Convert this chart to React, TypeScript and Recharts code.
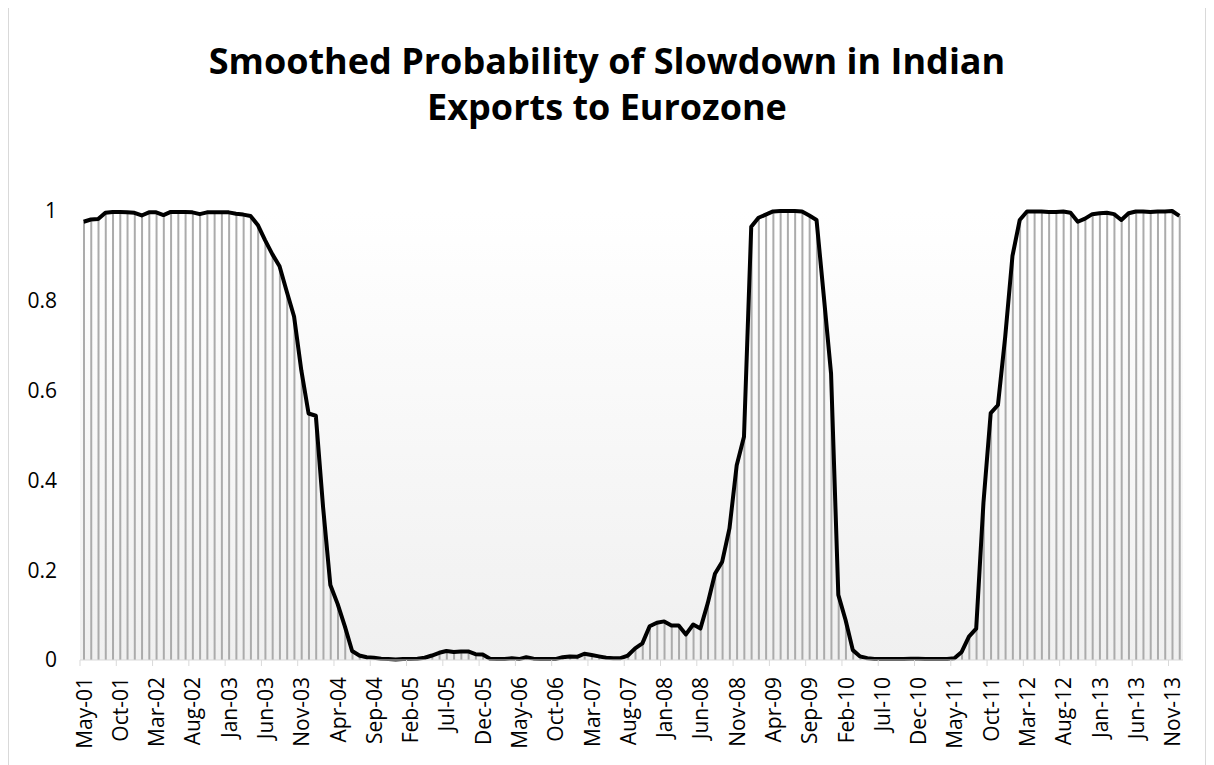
import { ComposedChart, Bar, Line, XAxis, YAxis, CartesianGrid } from 'recharts';

// monthly smoothed probabilities, May-01 .. Dec-13
const START_YEAR = 2001;
const START_MONTH = 4; // May
const MONTH_NAMES = ['Jan', 'Feb', 'Mar', 'Apr', 'May', 'Jun', 'Jul', 'Aug', 'Sep', 'Oct', 'Nov', 'Dec'];

const probability = [
  0.976, 0.981, 0.982, 0.996, 0.998, 0.998, 0.997, 0.996, 0.99, 0.997,
  0.997, 0.991, 0.998, 0.998, 0.998, 0.997, 0.993, 0.997, 0.997, 0.997,
  0.997, 0.994, 0.992, 0.989, 0.969, 0.935, 0.904, 0.877, 0.82, 0.765,
  0.645, 0.549, 0.544, 0.34, 0.167, 0.125, 0.075, 0.02, 0.01, 0.006,
  0.005, 0.003, 0.002, 0.001, 0.002, 0.002, 0.003, 0.005, 0.01, 0.016,
  0.02, 0.018, 0.019, 0.019, 0.013, 0.012, 0.003, 0.002, 0.002, 0.004,
  0.002, 0.006, 0.003, 0.002, 0.002, 0.002, 0.006, 0.008, 0.007, 0.014,
  0.011, 0.008, 0.005, 0.004, 0.004, 0.01, 0.026, 0.037, 0.075, 0.083,
  0.086, 0.077, 0.077, 0.057, 0.079, 0.07, 0.126, 0.192, 0.219, 0.293,
  0.434, 0.497, 0.965, 0.985, 0.992, 0.999, 1.0, 1.0, 1.0, 0.999,
  0.99, 0.98, 0.81, 0.638, 0.145, 0.089, 0.022, 0.008, 0.004, 0.002,
  0.002, 0.002, 0.002, 0.002, 0.003, 0.003, 0.002, 0.002, 0.002, 0.002,
  0.004, 0.018, 0.052, 0.07, 0.35, 0.55, 0.568, 0.72, 0.9, 0.98,
  0.999, 0.999, 0.999, 0.998, 0.998, 0.999, 0.996, 0.976, 0.983, 0.993,
  0.995, 0.996, 0.993, 0.98, 0.995, 0.999, 0.999, 0.998, 0.999, 0.999,
  1.0, 0.989,
];

const yTicks = [0, 0.2, 0.4, 0.6, 0.8, 1];

const months = probability.map((_, i) => {
  const m = START_MONTH + i;
  const yy = (START_YEAR + Math.floor(m / 12)) % 100;
  return `${MONTH_NAMES[m % 12]}-${String(yy).padStart(2, '0')}`;
});

const chartData = months.map((month, i) => ({ month, prob: probability[i] }));

const FONT = '"Open Sans", "Liberation Sans", sans-serif';

// Excel style: tick mark on the category boundary, label centred on the category
function MonthTick({ x, y, payload }: any) {
  const edge = x - (payload.offset || 0);
  const ty = y + 17;
  return (
    <g>
      <line x1={edge} y1={y} x2={edge} y2={y + 6} stroke="#d9d9d9" strokeWidth={1} />
      <text
        x={x}
        y={ty}
        transform={`rotate(-90 ${x} ${ty})`}
        textAnchor="end"
        dominantBaseline="central"
        fontFamily={FONT}
        fontSize={21}
        fill="#000"
      >
        {payload.value}
      </text>
    </g>
  );
}

export default function App() {
  return (
    <div
      style={{
        position: 'relative',
        width: 1198,
        height: 780,
        marginTop: -8,
        border: '1px solid #d9d9d9',
        boxSizing: 'border-box',
        background: '#fff',
        fontFamily: FONT,
      }}
    >
      <div
        style={{
          position: 'absolute',
          top: 37,
          left: 0,
          width: '100%',
          textAlign: 'center',
          fontSize: 36,
          fontWeight: 700,
          lineHeight: '46px',
          color: '#000',
        }}
      >
        Smoothed Probability of Slowdown in Indian
        <br />
        Exports to Eurozone
      </div>
      <div style={{ position: 'absolute', left: 0, top: 0 }}>
        <ComposedChart
          width={1196}
          height={778}
          data={chartData}
          margin={{ top: 210, right: 22, bottom: 0, left: 10 }}
          barCategoryGap={0}
        >
          <defs>
            <linearGradient id="plotBg" x1="0" y1="0" x2="0" y2="1">
              <stop offset="0%" stopColor="#ffffff" />
              <stop offset="100%" stopColor="#f0f0f0" />
            </linearGradient>
          </defs>
          <CartesianGrid horizontal={false} vertical={false} fill="url(#plotBg)" stroke="none" />
          <XAxis
            dataKey="month"
            interval={4}
            height={119}
            axisLine={{ stroke: '#d9d9d9', strokeWidth: 1 }}
            tickLine={false}
            tickSize={0}
            tickMargin={0}
            tick={<MonthTick />}
          />
          <YAxis
            type="number"
            domain={[0, 1]}
            ticks={yTicks}
            width={61}
            axisLine={false}
            tickLine={false}
            tickSize={0}
            tickMargin={23}
            tick={{ fill: '#000', fontSize: 21, fontFamily: FONT }}
          />
          <Bar dataKey="prob" barSize={2} fill="#ababab" isAnimationActive={false} />
          <Line
            type="linear"
            dataKey="prob"
            stroke="#000"
            strokeWidth={4}
            strokeLinejoin="round"
            dot={false}
            activeDot={false}
            isAnimationActive={false}
          />
        </ComposedChart>
      </div>
    </div>
  );
}
